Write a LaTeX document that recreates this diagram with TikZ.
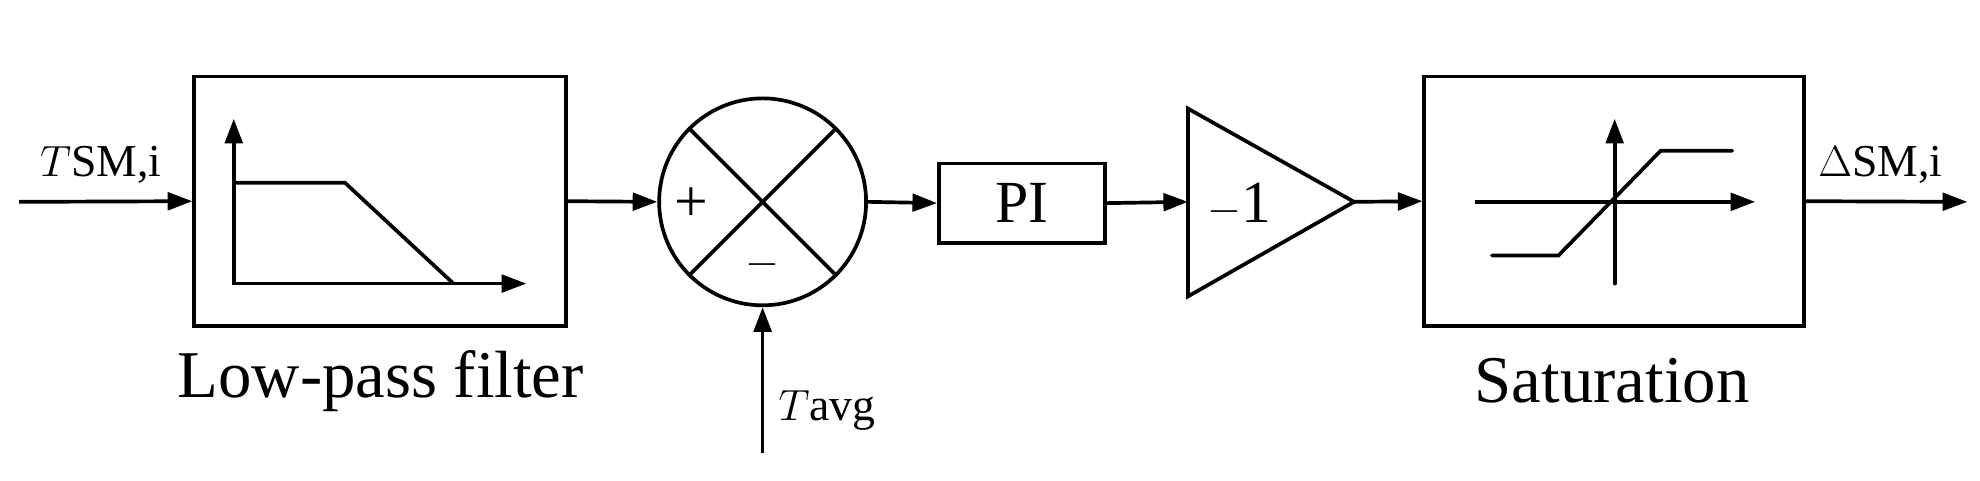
\documentclass[tikz,border=0pt]{standalone}
\usepackage{fontspec}
\setmainfont{Liberation Serif}
\usetikzlibrary{arrows.meta}
\begin{document}
\begin{tikzpicture}[x=0.02555cm,y=-0.02555cm,
  line width=2.1pt,
  arr/.style={-{Triangle[length=14pt,width=10pt]}},
  blk/.style={draw,line width=2.1pt,inner sep=0pt},
  lbl/.style={font=\fontsize{38}{40}\selectfont,inner sep=0pt},
  sym/.style={font=\fontsize{34}{36}\selectfont,inner sep=0pt}]
\useasboundingbox (0,0) rectangle (1550,375.8);
\coordinate (in) at (15,158);
\node[blk,minimum width=291*0.02555cm,minimum height=195*0.02555cm] (lpf) at (297.5,157.5) {};
\node[blk,circle,minimum size=162*0.02555cm] (sum) at (597,158) {};
\node[blk,minimum width=130*0.02555cm,minimum height=62*0.02555cm] (pi) at (800,159) {};
\node[sym] at (pi) {PI};
\coordinate (ta) at (930,85); \coordinate (tb) at (930,232); \coordinate (tc) at (1060,158);
\draw[line join=miter] (ta) -- (tb) -- (tc) -- cycle;
\coordinate (gin) at (930,158);
\node[sym] (gain) at (970,160) {$-$1};
\node[blk,minimum width=297*0.02555cm,minimum height=195*0.02555cm] (sat) at (1263.5,157.5) {};
\coordinate (out) at (1540,158);
\coordinate (tav) at (597,355);
% connectors
\draw[arr] (in) -- (lpf.west);
\draw[arr] (lpf.east) -- (sum.west);
\draw[arr] (sum.east) -- (pi.west);
\draw[arr] (pi.east) -- (gin);
\draw[arr] (tc) -- (sat.west);
\draw[arr] (sat.east) -- (out);
\draw[arr] (tav) -- (sum.south);
% cross in summer
\draw (sum.north west) -- (sum.south east);
\draw (sum.north east) -- (sum.south west);
\node[sym] at (541,160) {+};
\node[sym] at (597,207) {$-$};
% LPF inside
\draw[arr] (183,223) -- (183,93);
\draw[arr] (183,222) -- (412,222);
\draw (183,143) -- (270,143) -- (355,222);
% saturation inside
\draw[arr] (1155,158) -- (1374,158);
\draw[arr, line cap=round] (1264,222) -- (1264,93);
\draw[line cap=round] (1168,200) -- (1220,200) -- (1300,118) -- (1356,118);
% labels
\node[lbl] at (298,298) {Low-pass filter};
\node[lbl] at (1262,298) {Saturation};
\node[lbl,anchor=south west] at (30,145) {$T$\fontsize{26}{28}\selectfont SM,i};
\node[lbl,anchor=south west] at (1422,145) {$\Delta$\fontsize{26}{28}\selectfont SM,i};
\node[lbl,anchor=south west] at (608,338) {$T$\fontsize{26}{28}\selectfont avg};
\end{tikzpicture}
\end{document}
